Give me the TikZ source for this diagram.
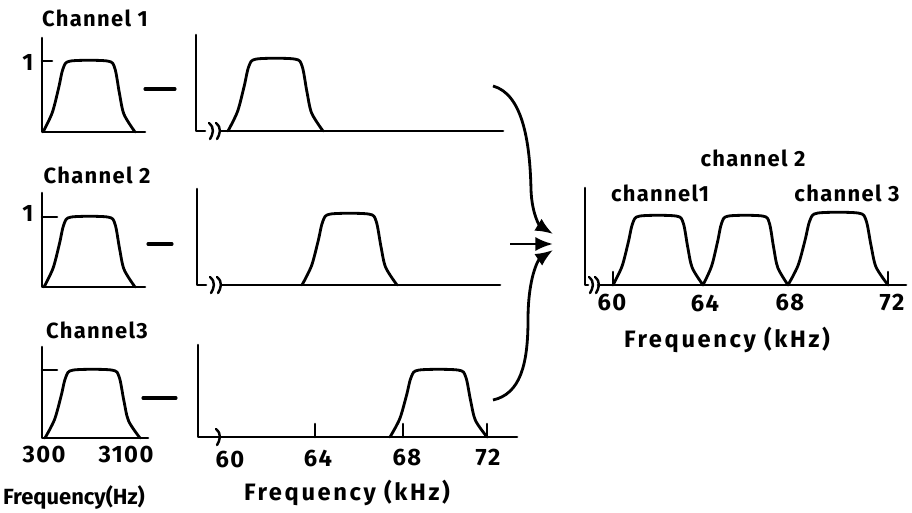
\documentclass[tikz,border=0pt]{standalone}
\usepackage{fontspec}
\setmainfont[LetterSpace=6]{Fira Sans}
\newfontfamily\plainfont{Fira Sans}
\newfontfamily\widefont[LetterSpace=11]{Fira Sans}
\usetikzlibrary{arrows.meta}

% break mark on a frequency axis
\newcommand{\axisbreak}[2]{\draw[brk] (#1-2,#2-8) .. controls (#1+4,#2-3) and (#1+2,#2+3) .. (#1-1,#2+8);}

\begin{document}
\begin{tikzpicture}[
  x=0.02cm, y=-0.02cm,
  axis/.style={line width=1.5pt, line cap=round, line join=round},
  curve/.style={line width=1.6pt, line cap=round, line join=round},
  brk/.style={line width=1.4pt, line cap=round},
  lbl/.style={font=\fontsize{12.5}{14}\selectfont\bfseries, inner sep=0pt},
  num/.style={font=\fontsize{13.5}{15}\selectfont\bfseries, inner sep=0pt},
  wide/.style={num, font=\widefont\fontsize{13.5}{15}\selectfont\bfseries},
  tight/.style={num, font=\plainfont\fontsize{12.5}{15}\selectfont\bfseries},
  arr/.style={line width=1.6pt, -{Latex[length=10pt,width=8pt]}}
]
\useasboundingbox (0,0) rectangle (912,513);

% baseband channels
\draw[axis] (42,38) -- (42,132) -- (145,132);
\draw[axis] (42,61) -- (52,61);
\draw[axis] (42,193) -- (42,287) -- (145,287);
\draw[axis] (42,217) -- (57,217);
\draw[axis] (42,347) -- (42,438) -- (148,438);
\draw[axis] (42,370) -- (57,370);

\node[lbl] (lab1) at (95,18) {Channel 1};
\node[lbl] (lab2) at (97,175) {Channel 2};
\node[lbl] (lab3) at (97,330) {Channel3};
\node[num] (one1) at (28,62) {1};
\node[num] (one2) at (28,213) {1};
\node[num] (f300) at (44,455) {300};
\node[num] (f3100) at (126,455) {3100};
\node[tight] (fhz) at (74,497) {Frequency(Hz)};

% modulation dashes
\draw[axis, line width=1.8pt] (145,89) -- (175,89);
\draw[axis, line width=1.8pt] (148,244) -- (172,244);
\draw[axis, line width=1.8pt] (143,398) -- (176,398);

% shifted channels
\draw[axis] (196,35) -- (196,131) -- (205,131);
\draw[axis] (221,131) -- (503,131);
\axisbreak{211}{131} \axisbreak{218}{131}
\draw[axis] (197,189) -- (197,285) -- (206,285);
\draw[axis] (222,285) -- (500,285);
\axisbreak{212}{285} \axisbreak{219}{285}
\draw[axis] (198,345) -- (198,437) -- (517,437);
\axisbreak{218}{437}
\foreach \t in {315,403,487}
  \draw[axis] (\t,424) -- (\t,437);

\node[num] (k60) at (230,460) {60};
\node[num] (k64) at (318,458) {64};
\node[num] (k68) at (407,458) {68};
\node[num] (k72) at (488,458) {72};
\node[wide] (fkhz) at (347,493) {Frequency (kHz)};

% combined group
\draw[axis] (585,188) -- (585,285) -- (588,285);
\draw[axis] (598,285) -- (906,285);
\axisbreak{591}{285} \axisbreak{597}{285}
\foreach \t in {613,888}
  \draw[axis] (\t,272) -- (\t,285);

\node[lbl] (mch2) at (753,158) {channel 2};
\node[lbl] (mch1) at (660,193) {channel1};
\node[lbl] (mch3) at (847,193) {channel 3};
\node[num] (m60) at (612,303) {60};
\node[num] (m64) at (705,303) {64};
\node[num] (m68) at (790,303) {68};
\node[num] (m72) at (892,303) {72};
\node[wide] (mkhz) at (727,340) {Frequency (kHz)};

% passbands: start/width/base/height
\foreach \s/\w/\b/\h in {43/92/132/71, 44/91/287/70, 45/95/438/68,
                         228/95/131/72, 302/95/285/71, 390/97/437/67,
                         613/90/285/69, 703/85/285/69, 788/100/285/72}
  \draw[curve] plot[smooth, tension=0.5] coordinates {
    (\s,\b) ({\s+0.1*\w},{\b-0.27*\h}) ({\s+0.17*\w},{\b-0.62*\h})
    ({\s+0.22*\w},{\b-0.9*\h}) ({\s+0.3*\w},{\b-\h}) ({\s+0.7*\w},{\b-\h})
    ({\s+0.78*\w},{\b-0.9*\h}) ({\s+0.83*\w},{\b-0.55*\h})
    ({\s+0.88*\w},{\b-0.25*\h}) ({\s+\w},\b)};

% multiplexing arrows
\coordinate (out1) at (493,86);
\coordinate (out2) at (510,244);
\coordinate (out3) at (493,400);
\coordinate (sum1) at (553,234);
\coordinate (sum2) at (553,244);
\coordinate (sum3) at (553,250);
\draw[arr] (out1) .. controls (522,94) and (530,140) .. (531,190) .. controls (532,215) and (540,226) .. (sum1);
\draw[arr] (out2) -- (sum2);
\draw[arr] (out3) .. controls (520,394) and (528,365) .. (528,320) .. controls (528,278) and (538,260) .. (sum3);

\end{tikzpicture}
\end{document}
